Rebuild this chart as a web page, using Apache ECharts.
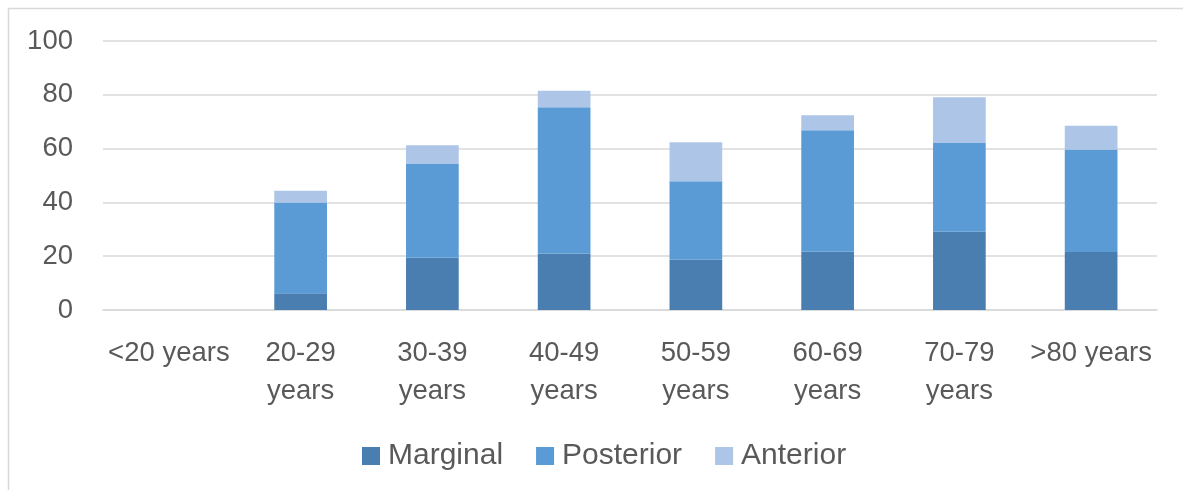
<!DOCTYPE html>
<html>
<head>
<meta charset="utf-8">
<style>
  html, body { margin: 0; padding: 0; background: #fff; }
  #chart { width: 1183px; height: 490px; }
</style>
<script src="https://cdn.jsdelivr.net/npm/echarts@6/dist/echarts.min.js"></script>
</head>
<body>
<div id="chart"></div>
<script>
// Age groups on the x axis
const categories = ['<20 years', '20-29\nyears', '30-39\nyears', '40-49\nyears', '50-59\nyears', '60-69\nyears', '70-79\nyears', '>80 years'];
// Stacked segment values per age group
const marginal  = [0, 6.2, 19.4, 21.0, 18.7, 21.7, 29.1, 21.6];
const posterior = [0, 33.8, 35.1, 54.4, 29.2, 45.1, 33.0, 38.1];
const anterior  = [0, 4.3, 6.7, 6.1, 14.5, 5.6, 17.0, 8.8];
// Value axis
const yTicks = { min: 0, max: 100, interval: 20 };

const textColor = '#595959';
const lineColor = '#d9d9d9';
const fontFamily = '"Liberation Sans", Arial, sans-serif';

const chart = echarts.init(document.getElementById('chart'), null, { renderer: 'canvas' });

function barSeries(name, data, color) {
  return {
    name: name,
    type: 'bar',
    stack: 'total',
    data: data,
    barWidth: '40%',
    itemStyle: { color: color },
    emphasis: { disabled: true }
  };
}

chart.setOption({
  animation: false,
  backgroundColor: '#ffffff',
  textStyle: { fontFamily: fontFamily },
  graphic: [{
    type: 'rect',
    shape: { x: 8.5, y: 8.5, width: 1300, height: 600 },
    style: { fill: 'none', stroke: lineColor, lineWidth: 1.5 },
    silent: true,
    z: -1
  }],
  grid: { left: 103, right: 26, top: 41, bottom: 180, containLabel: false },
  legend: {
    data: ['Marginal', 'Posterior', 'Anterior'],
    bottom: 14,
    left: 357,
    icon: 'rect',
    itemWidth: 18,
    itemHeight: 18,
    itemGap: 33,
    textStyle: { color: textColor, fontSize: 30, fontFamily: fontFamily, padding: [0, 0, 0, 3] },
    selectedMode: false
  },
  xAxis: {
    type: 'category',
    data: categories,
    axisLine: { show: true, lineStyle: { color: lineColor, width: 1.5 } },
    axisTick: { show: false },
    axisLabel: {
      color: textColor,
      fontSize: 27.5,
      lineHeight: 38,
      margin: 24,
      interval: 0,
      fontFamily: fontFamily
    }
  },
  yAxis: {
    type: 'value',
    min: yTicks.min,
    max: yTicks.max,
    interval: yTicks.interval,
    axisLine: { show: false },
    axisTick: { show: false },
    splitLine: { lineStyle: { color: lineColor, width: 1.5 } },
    axisLabel: { color: textColor, fontSize: 27.5, margin: 30, fontFamily: fontFamily }
  },
  series: [
    barSeries('Marginal', marginal, '#4a7eb0'),
    barSeries('Posterior', posterior, '#5b9bd5'),
    barSeries('Anterior', anterior, '#adc5e7')
  ]
});
</script>
</body>
</html>
